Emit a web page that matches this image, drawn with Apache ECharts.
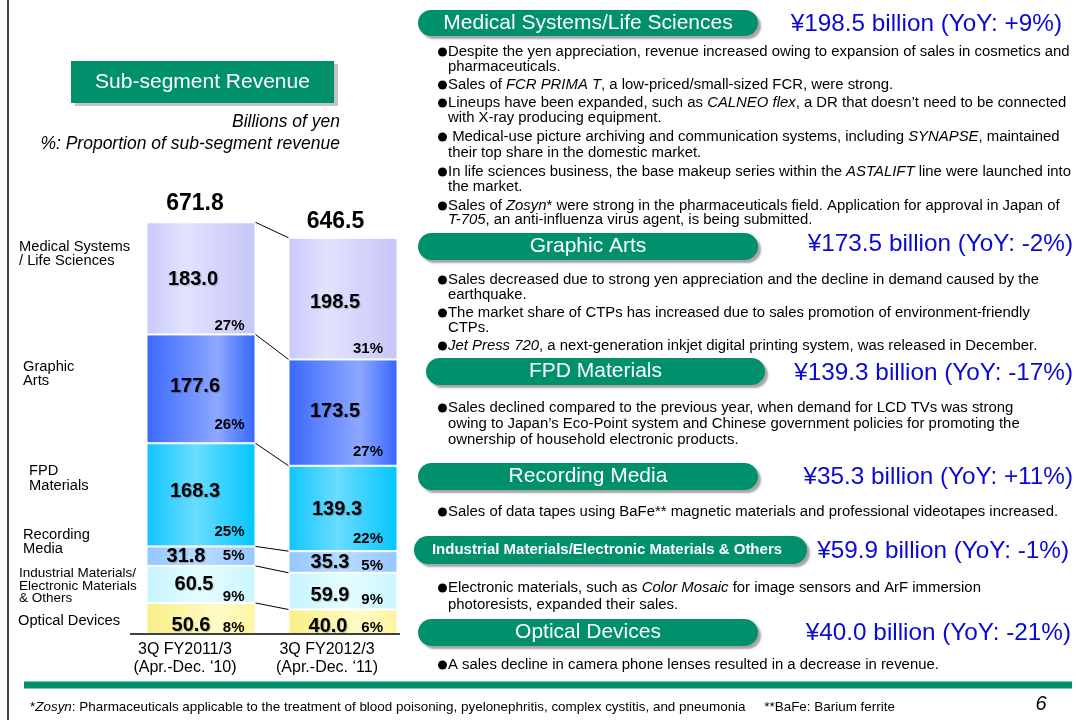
<!DOCTYPE html>
<html><head><meta charset="utf-8">
<script src="https://cdn.jsdelivr.net/npm/echarts@6/dist/echarts.min.js"></script>
<style>html,body{margin:0;padding:0;background:#fff;}#c{width:1076px;height:720px;}</style>
</head><body><div id="c"></div>
<script>
// ---------------- DATA ----------------
const categories = ['3Q FY2011/3', '3Q FY2012/3'];
const periods = ['(Apr.-Dec. \u201810)', '(Apr.-Dec. \u201811)'];
// segments listed bottom -> top of the stack
const segments = ['Optical Devices', 'Industrial Materials/Electronic Materials & Others', 'Recording Media', 'FPD Materials', 'Graphic Arts', 'Medical Systems/Life Sciences'];
const revenue2011 = [50.6, 60.5, 31.8, 168.3, 177.6, 183.0];
const revenue2012 = [40.0, 59.9, 35.3, 139.3, 173.5, 198.5];
const share2011 = [8, 9, 5, 25, 26, 27];
const share2012 = [6, 9, 5, 22, 27, 31];
const totals = [671.8, 646.5];
const yoy = ['-21%', '-1%', '+11%', '-17%', '-2%', '+9%'];

// ---------------- LAYOUT / STYLE ----------------
const FONT = '"Liberation Sans", Arial, Helvetica, sans-serif';
const GREEN = '#00906c';
const BLUE = '#0a0ad0';
const BAR_W = 109;
const BODY = 14.9;
function hg(stops){ return new echarts.graphic.LinearGradient(0,0,1,0, stops.map((c,i)=>({offset:c[0], color:c[1]}))); }
const segFills = [
  hg([[0,'#f9ee88'],[0.65,'#fffbc6'],[1,'#fff4a0']]),
  hg([[0,'#c6f4ff'],[0.5,'#e4fdff'],[1,'#ccf6ff']]),
  hg([[0,'#96c6ff'],[0.5,'#b8dbff'],[1,'#96c6ff']]),
  hg([[0,'#10c4ff'],[0.45,'#6adcff'],[1,'#00c6ff']]),
  hg([[0,'#3a68ff'],[0.65,'#8ea8ff'],[1,'#3366ff']]),
  hg([[0,'#c9c9fb'],[0.35,'#e2e2ff'],[1,'#c6c6f8']])
];
const valueOffsets = [
  [[-10,7],[-7,0],[-15,0],[-6,-3],[-6,-2],[-8,1]],
  [[-15,5],[-13,4],[-13,1],[-6,1.5],[-8,-1],[-8,4]]
];
const pctLift = [[6,6,10,15,18,9],[6,9.5,7,12,14,11]];
const pctInset = [11, 14.5];
const totalOffsets = [[-6,-19],[-7.5,-16]];

const revenues = [revenue2011, revenue2012];
const shares = [share2011, share2012];
const cum = revenues.map(arr => { let s = 0; return arr.map(v => (s += v)); });

const barSeries = segments.map((name, s) => ({
  name, type: 'bar', stack: 'total', barWidth: BAR_W, z: 2,
  itemStyle: { color: segFills[s], borderColor: '#ffffff', borderWidth: 1 },
  label: { show: true, position: 'inside', color: '#000', fontFamily: FONT, fontWeight: 'bold', fontSize: 20,
           textShadowColor: 'rgba(0,0,0,0.25)', textShadowBlur: 1, textShadowOffsetX: 1, textShadowOffsetY: 1,
           formatter: p => Number(p.value).toFixed(1) },
  data: revenues.map((arr, c) => ({ value: arr[s], label: { offset: valueOffsets[c][s] } }))
}));

const connectorData = segments.map((_, s) => [0, cum[0][s], cum[1][s]]);
const pctData = [];
revenues.forEach((arr, c) => arr.forEach((v, s) => pctData.push([c, cum[c][s] - v, cum[c][s], shares[c][s], s])));
const totalData = totals.map((t, c) => [c, t]);

const connectorSeries = {
  type: 'custom', silent: true, z: 3, encode: { x: 0, y: 1 }, data: connectorData,
  renderItem(params, api) {
    const p1 = api.coord([0, api.value(1)]);
    const p2 = api.coord([1, api.value(2)]);
    return { type: 'line', shape: { x1: p1[0] + BAR_W/2, y1: p1[1], x2: p2[0] - BAR_W/2, y2: p2[1] },
             style: { stroke: '#000', lineWidth: 1 } };
  }
};
const pctSeries = {
  type: 'custom', silent: true, z: 4, encode: { x: 0, y: 1 }, data: pctData,
  renderItem(params, api) {
    const c = api.value(0), s = api.value(4);
    const p = api.coord([c, api.value(1)]);
    return { type: 'text', x: p[0] + BAR_W/2 - pctInset[c], y: p[1] - pctLift[c][s],
             style: { text: api.value(3) + '%', fill: '#000', fontFamily: FONT, fontWeight: 'bold', fontSize: 15,
                      align: 'right', verticalAlign: 'middle' } };
  }
};
const totalSeries = {
  type: 'custom', silent: true, z: 4, encode: { x: 0, y: 1 }, data: totalData,
  renderItem(params, api) {
    const c = api.value(0);
    const p = api.coord([c, api.value(1)]);
    return { type: 'text', x: p[0] + totalOffsets[c][0], y: p[1] + totalOffsets[c][1],
             style: { text: api.value(1).toFixed(1), fill: '#000', fontFamily: FONT, fontWeight: 'bold', fontSize: 23,
                      align: 'center', verticalAlign: 'middle' } };
  }
};

// ---------------- GRAPHIC (slide text) ----------------
const G = [];
function txt(x, y, text, o) {
  const st = Object.assign({ text, fill: '#000', fontSize: BODY, fontFamily: FONT, align: 'left', verticalAlign: 'middle' }, o || {});
  G.push({ type: 'text', x, y, silent: true, z: 10, style: st });
}
const italicRich = (size, color) => ({ i: { fontStyle: 'italic', fontSize: size, fontFamily: FONT, fill: color || '#000' },
                                        n: { fontSize: size, fontFamily: FONT, fill: color || '#000' } });
function pill(x, y, w, h, label, fontSize, bold, cx) {
  G.push({ type: 'rect', silent: true, z: 9, shape: { x, y, width: w, height: h, r: h/2 },
           style: { fill: GREEN, shadowColor: 'rgba(0,0,0,0.35)', shadowOffsetX: 3, shadowOffsetY: 3, shadowBlur: 2 } });
  txt(cx !== undefined ? cx : x + w/2, y + h/2, label, { fill: '#fff', fontSize, fontWeight: bold ? 'bold' : 'normal', align: 'center' });
}
const AMT = 24.3;
function amount(rightX, y, s) {
  txt(rightX, y, '\u00a5' + revenue2012[s].toFixed(1) + ' billion (YoY: ' + yoy[s] + ')', { fontSize: AMT, fill: BLUE, align: 'right' });
}
function bullets(lines) {
  lines.forEach(l => {
    if (l[1]) G.push({ type: 'circle', silent: true, z: 10, shape: { cx: 442.5, cy: l[0], r: 4.5 }, style: { fill: '#000' } });
    txt(448, l[0], l[2], { rich: italicRich(BODY) });
  });
}

// left border and footer
G.push({ type: 'line', silent: true, z: 1, shape: { x1: 8, y1: 0, x2: 8, y2: 720 }, style: { stroke: '#000', lineWidth: 1.5 } });
G.push({ type: 'rect', silent: true, z: 1, shape: { x: 24, y: 681.5, width: 1048, height: 7 }, style: { fill: GREEN } });
txt(30, 707, '*{i|Zosyn}: Pharmaceuticals applicable to the treatment of blood poisoning, pyelonephritis, complex cystitis, and pneumonia     **BaFe: Barium ferrite',
    { fontSize: 13.45, rich: italicRich(13.45) });
txt(1041, 704, '6', { fontSize: 20, fontStyle: 'italic', align: 'center' });

// chart title and units
G.push({ type: 'rect', silent: true, z: 8, shape: { x: 75, y: 64, width: 263, height: 42 }, style: { fill: '#c4c4c4' } });
G.push({ type: 'rect', silent: true, z: 9, shape: { x: 71, y: 61, width: 263, height: 42 }, style: { fill: GREEN } });
txt(202.5, 82, 'Sub-segment Revenue', { fill: '#fff', fontSize: 21, align: 'center' });
txt(340, 122, 'Billions of yen', { fontSize: 17.5, fontStyle: 'italic', align: 'right' });
txt(340, 144, '%: Proportion of sub-segment revenue', { fontSize: 17.5, fontStyle: 'italic', align: 'right' });
G.push({ type: 'line', silent: true, z: 5, shape: { x1: 130, y1: 634, x2: 400, y2: 634 }, style: { stroke: '#000', lineWidth: 1.5 } });

// segment names at the left of the chart
const sideLabels = [
  [19, 247, 'Medical Systems', 14.7], [19, 261, '/ Life Sciences', 14.7],
  [23, 367, 'Graphic', 14.7], [23, 381, 'Arts', 14.7],
  [29, 471, 'FPD', 14.7], [29, 486, 'Materials', 14.7],
  [23, 535, 'Recording', 14.7], [23, 549, 'Media', 14.7],
  [19, 573, 'Industrial Materials/', 13.5], [19, 586, 'Electronic Materials', 13.5], [19, 598, '& Others', 13.5],
  [18, 621, 'Optical Devices', 14.7]
];
sideLabels.forEach(l => txt(l[0], l[1], l[2], { fontSize: l[3] }));

// right side: headers, amounts, notes
pill(418, 10, 340, 26, segments[5], 21);
amount(1062, 24, 5);
bullets([
  [52, 1, 'Despite the yen appreciation, revenue increased owing to expansion of sales in cosmetics and'],
  [67, 0, 'pharmaceuticals.'],
  [85, 1, 'Sales of {i|FCR PRIMA T}, a low-priced/small-sized FCR, were strong.'],
  [103, 1, 'Lineups have been expanded, such as {i|CALNEO flex}, a DR that doesn\u2019t need to be connected'],
  [118, 0, 'with X-ray producing equipment.'],
  [137, 1, ' Medical-use picture archiving and communication systems, including {i|SYNAPSE}, maintained'],
  [153, 0, 'their top share in the domestic market.'],
  [172, 1, 'In life sciences business, the base makeup series within the {i|ASTALIFT} line were launched into'],
  [187, 0, 'the market.'],
  [206, 1, 'Sales of {i|Zosyn}* were strong in the pharmaceuticals field. Application for approval in Japan of'],
  [220, 0, '{i|T-705}, an anti-influenza virus agent, is being submitted.']
]);
pill(418, 233, 340, 27, segments[4], 21);
amount(1073, 244, 4);
bullets([
  [280, 1, 'Sales decreased due to strong yen appreciation and the decline in demand caused by the'],
  [295, 0, 'earthquake.'],
  [313, 1, 'The market share of CTPs has increased due to sales promotion of environment-friendly'],
  [328, 0, 'CTPs.'],
  [346, 1, '{i|Jet Press 720}, a next-generation inkjet digital printing system, was released in December.']
]);
pill(426, 358, 339, 27, segments[3], 21);
amount(1073, 373, 3);
bullets([
  [408, 1, 'Sales declined compared to the previous year, when demand for LCD TVs was strong'],
  [424, 0, 'owing to Japan\u2019s Eco-Point system and Chinese government policies for promoting the'],
  [440, 0, 'ownership of household electronic products.']
]);
pill(418, 463, 340, 27, segments[2], 21);
amount(1073, 477, 2);
bullets([
  [512, 1, 'Sales of data tapes using BaFe** magnetic materials and professional videotapes increased.']
]);
pill(414, 536, 393, 28, segments[1], 15, true, 607);
amount(1069, 551, 1);
bullets([
  [588, 1, 'Electronic materials, such as {i|Color Mosaic} for image sensors and ArF immersion'],
  [605, 0, 'photoresists, expanded their sales.']
]);
pill(418, 619, 340, 27, segments[0], 21);
amount(1071, 633, 0);
bullets([
  [665, 1, 'A sales decline in camera phone lenses resulted in a decrease in revenue.']
]);

// ---------------- CHART ----------------
const chart = echarts.init(document.getElementById('c'), null, { renderer: 'canvas' });
chart.setOption({
  animation: false,
  backgroundColor: '#ffffff',
  textStyle: { fontFamily: FONT },
  grid: { left: 130, width: 284, top: 205, bottom: 86 },
  xAxis: {
    type: 'category', data: categories,
    axisLine: { show: false }, axisTick: { show: false },
    axisLabel: { color: '#000', fontSize: 16, lineHeight: 18, margin: 7, padding: [0, 32, 0, 0],
                 formatter: (v, i) => v + '\n' + periods[i] }
  },
  yAxis: { type: 'value', min: 0, max: 700, show: false },
  series: barSeries.concat([connectorSeries, pctSeries, totalSeries]),
  graphic: { elements: G }
});
</script></body></html>
